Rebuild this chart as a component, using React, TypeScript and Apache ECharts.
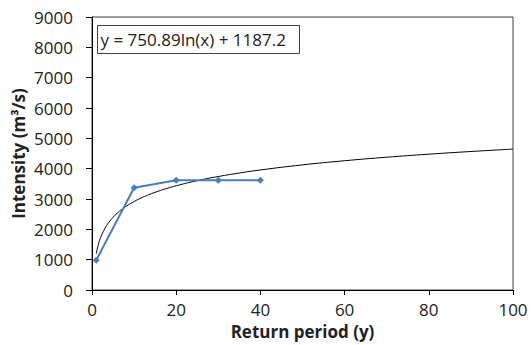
import React, { useEffect, useRef } from "react";
import * as echarts from "echarts";

const returnPeriods = [1, 10, 20, 30, 40];
const intensities = [980, 3370, 3615, 3620, 3620];
const trendA = 750.89;
const trendB = 1187.2;
const trendX = [1, 1.5, 2, 3, 4, 5, 6, 7, 8, 10, 12, 15, 18, 20, 25, 30, 35, 40, 50, 60, 70, 80, 90, 100];
const equationText = "y = 750.89ln(x) + 1187.2";

export default function App() {
  const ref = useRef<HTMLDivElement>(null);
  useEffect(() => {
    document.body.style.margin = "0";
    const chart = echarts.init(ref.current!, null, { renderer: "svg" });
    const font = "'Open Sans', 'Liberation Sans', sans-serif";
    chart.setOption({
      animation: false,
      backgroundColor: "#ffffff",
      grid: {
        left: 92, top: 17, right: 18, bottom: 55,
        containLabel: false, outerBoundsMode: "none",
        show: true, borderColor: "#404040", borderWidth: 1,
      },
      xAxis: {
        type: "value",
        min: 0,
        max: 100,
        interval: 20,
        splitLine: { show: false },
        axisLine: { show: true, lineStyle: { color: "#000", width: 1 } },
        axisTick: { show: true, inside: false, length: 5, lineStyle: { color: "#000" } },
        axisLabel: { color: "#222", fontSize: 17, lineHeight: 17, fontFamily: font, margin: 11, formatter: (v: number) => String(v) },
        name: "Return period (y)",
        nameLocation: "middle",
        nameGap: 32,
        nameMoveOverlap: false,
        nameTextStyle: { color: "#222", fontSize: 17, lineHeight: 18, fontWeight: "bold", fontFamily: font },
      },
      yAxis: {
        type: "value",
        min: 0,
        max: 9000,
        interval: 1000,
        splitLine: { show: false },
        axisLine: { show: true, lineStyle: { color: "#000", width: 1 } },
        axisTick: { show: true, inside: false, length: 6, lineStyle: { color: "#000" } },
        axisLabel: { color: "#222", fontSize: 17, fontFamily: font, margin: 19, formatter: (v: number) => String(v) },
        name: "Intensity (m³/s)",
        nameLocation: "middle",
        nameGap: 65,
        nameMoveOverlap: false,
        nameTextStyle: { color: "#222", fontSize: 17, fontWeight: "bold", fontFamily: font },
      },
      series: [
        {
          type: "line",
          data: trendX.map((x) => [x, trendA * Math.log(x) + trendB]),
          showSymbol: false,
          smooth: true,
          lineStyle: { color: "#000", width: 1 },
          z: 2,
        },
        {
          type: "line",
          data: returnPeriods.map((x, i) => [x, intensities[i]]),
          symbol: "diamond",
          symbolSize: 7,
          itemStyle: { color: "#4a7ebb" },
          lineStyle: { color: "#4a7ebb", width: 2 },
          z: 3,
        },
      ],
      graphic: [
        {
          type: "group",
          left: 97,
          top: 25,
          children: [
            { type: "rect", shape: { x: 0, y: 0, width: 202, height: 28 }, style: { fill: "#fff", stroke: "#404040", lineWidth: 1 } },
            { type: "text", x: 3, y: 14, style: { text: equationText, fontSize: 17, fontFamily: font, fill: "#222", verticalAlign: "middle" } },
          ],
        },
      ],
    });
    return () => chart.dispose();
  }, []);
  return <div ref={ref} style={{ position: "fixed", left: 0, top: 0, width: 531, height: 345 }} />;
}
